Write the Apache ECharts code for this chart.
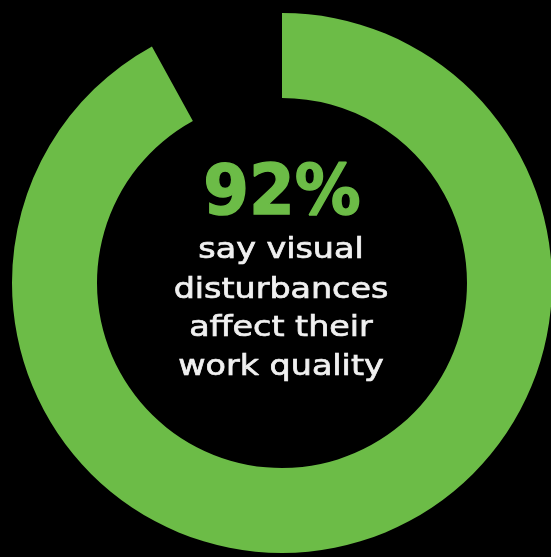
<!DOCTYPE html>
<html>
<head>
<meta charset="utf-8">
<script src="https://cdn.jsdelivr.net/npm/echarts@6/dist/echarts.min.js"></script>
<style>html,body{margin:0;padding:0;background:#000;}#c{width:551px;height:557px;}</style>
</head>
<body>
<div id="c"></div>
<script>
const categories = ['Affected', 'Not affected'];
const values = [92, 8];
const headline = '92%';
const captionLines = ['say visual', 'disturbances', 'affect their', 'work quality'];

const chart = echarts.init(document.getElementById('c'), null, {renderer: 'canvas'});
const green = '#6cbc47';
const lineTops = [236, 276, 314, 353];
const texts = [{
  type: 'text', x: 282, y: 161, scaleX: 0.94,
  style: {text: headline, x: 0, y: 0, fill: green, stroke: green, lineWidth: 1.5, font: 'bold 70px "DejaVu Sans"', align: 'center', verticalAlign: 'top'}
}];
captionLines.forEach((t, i) => {
  texts.push({type: 'text', x: 281, y: lineTops[i], scaleX: 1.15,
    style: {text: t, x: 0, y: 0, fill: '#f0f0f0', stroke: '#f0f0f0', lineWidth: 0.7, font: '29px "DejaVu Sans"', align: 'center', verticalAlign: 'top'}});
});
chart.setOption({
  backgroundColor: '#000',
  animation: false,
  series: [{
    type: 'pie',
    center: [282, 283],
    radius: [185, 270],
    startAngle: 90,
    clockwise: true,
    silent: true,
    label: {show: false},
    labelLine: {show: false},
    data: categories.map((c, i) => ({name: c, value: values[i], itemStyle: {color: i === 0 ? green : 'rgba(0,0,0,0)'}}))
  }],
  graphic: texts
});
</script>
</body>
</html>
